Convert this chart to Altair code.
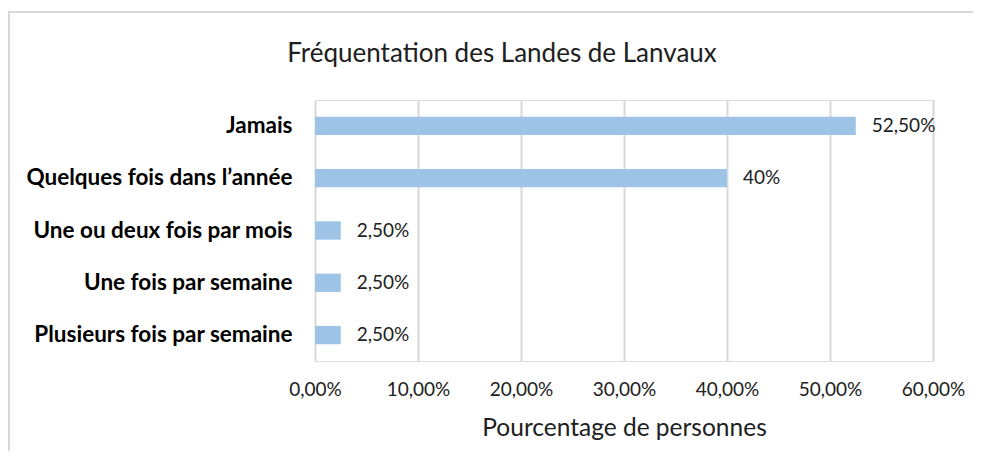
import altair as alt
import pandas as pd

categories = ["Jamais", "Quelques fois dans l\u2019année", "Une ou deux fois par mois",
              "Une fois par semaine", "Plusieurs fois par semaine"]
values = [0.525, 0.40, 0.025, 0.025, 0.025]
value_labels = ["52,50%", "40%", "2,50%", "2,50%", "2,50%"]
chart_title = "Fréquentation des Landes de Lanvaux"
x_title = "Pourcentage de personnes"

df = pd.DataFrame({"cat": categories, "val": values, "lab": value_labels})

FONT = "Lato"
W, H = 618, 261

y_enc = alt.Y("cat:N", sort=categories, title=None,
              scale=alt.Scale(paddingInner=0.65, paddingOuter=0.32),
              axis=alt.Axis(labelFont=FONT, labelFontWeight="bold", labelFontSize=22.5,
                            labelColor="#000000", labelPadding=23, labelLimit=400,
                            ticks=False, domain=False, grid=False))
x_enc = alt.X("val:Q", title=x_title,
              scale=alt.Scale(domain=[0, 0.6], nice=False),
              axis=alt.Axis(values=[0, 0.1, 0.2, 0.3, 0.4, 0.5, 0.6],
                            labelExpr="replace(format(datum.value*100, '.2f'), '.', ',') + '%'",
                            labelFont=FONT, labelFontSize=19, labelColor="#202020",
                            labelPadding=19, labelFlush=False,
                            ticks=False, domain=False,
                            grid=True, gridColor="#d9d9d9", gridWidth=2,
                            titleFont=FONT, titleFontSize=24.5, titleFontWeight="normal",
                            titleColor="#202020", titlePadding=17))

bars = alt.Chart(df).mark_bar(color="#9DC3E6").encode(x=x_enc, y=y_enc)
texts = alt.Chart(df).mark_text(align="left", dx=16, font=FONT, fontSize=19,
                                color="#202020").encode(
    x="val:Q", y=alt.Y("cat:N", sort=categories), text="lab:N")

title_mark = alt.Chart(pd.DataFrame({"t": [chart_title]})).mark_text(
    font=FONT, fontSize=26, color="#202020", align="center", baseline="middle").encode(
    x=alt.value(187), y=alt.value(-46), text="t:N")

frame_top = alt.Chart(pd.DataFrame({"a": [0]})).mark_rule(color="#d9d9d9", strokeWidth=2).encode(
    x=alt.value(-307), x2=alt.value(658), y=alt.value(-88))
frame_left = alt.Chart(pd.DataFrame({"a": [0]})).mark_rule(color="#d9d9d9", strokeWidth=2).encode(
    x=alt.value(-306), y=alt.value(-88), y2=alt.value(351))

chart = alt.layer(frame_top, frame_left, title_mark, bars, texts).properties(
    width=W, height=H,
    autosize=alt.AutoSizeParams(type="none"),
    padding={"left": 307, "top": 92, "right": 40, "bottom": 90},
).configure_view(stroke=None).configure(background="white")

chart.save("out.html", embed_options={"renderer": "svg", "actions": False})
